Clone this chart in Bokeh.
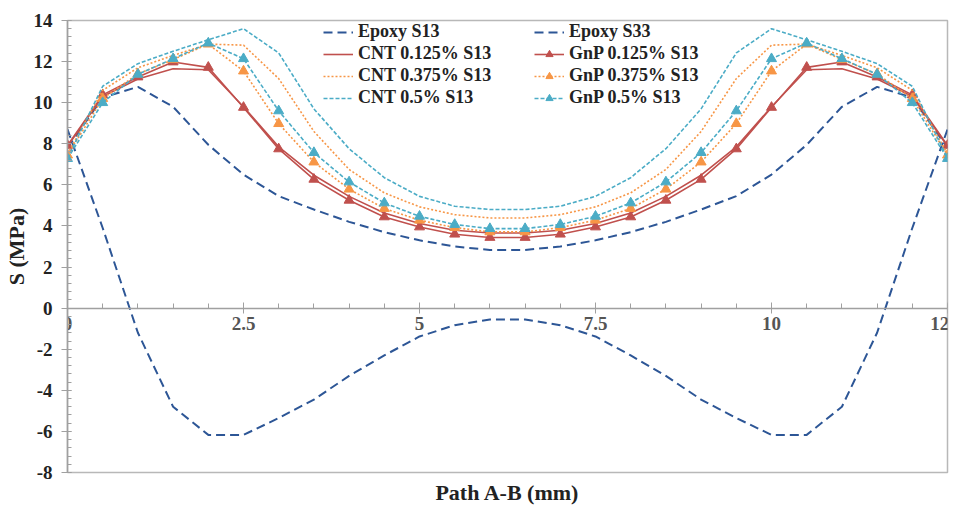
from bokeh.plotting import figure
from bokeh.models import SingleIntervalTicker, Range1d, Legend, LegendItem, Title, PrintfTickFormatter
from bokeh.embed import file_html
from bokeh.resources import INLINE

path_x = [0, 0.5, 1, 1.5, 2, 2.5, 3, 3.5, 4, 4.5, 5, 5.5, 6,
          6.5, 7, 7.5, 8, 8.5, 9, 9.5, 10, 10.5, 11, 11.5, 12, 12.5]

epoxy_s13 = [7.8, 10.25, 10.77, 9.8, 7.95, 6.5, 5.45, 4.8, 4.2, 3.7, 3.3, 3.0, 2.83,
             2.83, 3.0, 3.3, 3.7, 4.2, 4.8, 5.45, 6.5, 7.95, 9.8, 10.77, 10.25, 7.8]
epoxy_s33 = [8.7, 3.9, -1.2, -4.8, -6.17, -6.17, -5.35, -4.45, -3.3, -2.3, -1.38, -0.83, -0.55,
             -0.55, -0.83, -1.38, -2.3, -3.3, -4.45, -5.35, -6.17, -6.17, -4.8, -1.2, 3.9, 8.7]
cnt_0125 = [7.88, 10.3, 11.15, 11.65, 11.6, 9.8, 7.85, 6.47, 5.44, 4.63, 4.12, 3.79, 3.66,
            3.66, 3.79, 4.12, 4.63, 5.44, 6.47, 7.85, 9.8, 11.6, 11.65, 11.15, 10.3, 7.88]
gnp_0125 = [7.92, 10.38, 11.25, 11.98, 11.72, 9.77, 7.75, 6.27, 5.25, 4.44, 3.95, 3.6, 3.44,
            3.44, 3.6, 3.95, 4.44, 5.25, 6.27, 7.75, 9.77, 11.72, 11.98, 11.25, 10.38, 7.92]
cnt_0375 = [7.5, 10.6, 11.7, 12.3, 12.85, 12.8, 11.17, 8.6, 6.75, 5.61, 4.93, 4.55, 4.39,
            4.39, 4.55, 4.93, 5.61, 6.75, 8.6, 11.17, 12.8, 12.85, 12.3, 11.7, 10.6, 7.5]
gnp_0375 = [7.45, 10.2, 11.4, 12.1, 12.85, 11.54, 8.98, 7.11, 5.79, 4.85, 4.28, 3.92, 3.71,
            3.71, 3.92, 4.28, 4.85, 5.79, 7.11, 8.98, 11.54, 12.85, 12.1, 11.4, 10.2, 7.45]
cnt_05 = [7.3, 10.8, 11.9, 12.5, 13.06, 13.6, 12.42, 9.7, 7.76, 6.35, 5.44, 4.96, 4.8,
          4.8, 4.96, 5.44, 6.35, 7.76, 9.7, 12.42, 13.6, 13.06, 12.5, 11.9, 10.8, 7.3]
gnp_05 = [7.28, 10.0, 11.38, 12.14, 12.9, 12.14, 9.6, 7.57, 6.14, 5.12, 4.47, 4.07, 3.87,
          3.87, 4.07, 4.47, 5.12, 6.14, 7.57, 9.6, 12.14, 12.9, 12.14, 11.38, 10.0, 7.28]

series_labels = ["Epoxy S13", "Epoxy S33", "CNT 0.125% S13", "GnP 0.125% S13",
                 "CNT 0.375% S13", "GnP 0.375% S13", "CNT 0.5% S13", "GnP 0.5% S13"]

FONT = "'Liberation Serif', 'Times New Roman', serif"
BLUE = "#2d5696"
RED = "#c0504d"
ORANGE = "#f79646"
CYAN = "#4bacc6"

p = figure(width=963, height=509, output_backend="svg", toolbar_location=None,
           x_range=Range1d(0, 12.5), y_range=Range1d(-8, 14),
           min_border_left=66, min_border_right=16, min_border_top=20, min_border_bottom=37)
p.grid.visible = False
p.outline_line_color = "#b8b8b8"
p.outline_line_width = 1.5
p.background_fill_color = "white"
p.border_fill_color = "white"

# x axis at y = 0
p.xaxis.fixed_location = 0
p.xaxis.ticker = SingleIntervalTicker(interval=2.5, num_minor_ticks=5)
p.xaxis.formatter = PrintfTickFormatter(format="%g")
p.xaxis.axis_line_color = "#a0a0a0"
p.xaxis.axis_line_width = 1.5
p.xaxis.major_tick_line_color = "#a0a0a0"
p.xaxis.minor_tick_line_color = "#a0a0a0"
p.xaxis.major_tick_in = 6
p.xaxis.major_tick_out = 5
p.xaxis.minor_tick_in = 5
p.xaxis.minor_tick_out = 0
p.xaxis.major_label_text_font = FONT
p.xaxis.major_label_text_font_style = "bold"
p.xaxis.major_label_text_font_size = "19px"
p.xaxis.major_label_text_color = "#555555"
p.xaxis.major_label_standoff = 4

p.yaxis.ticker = SingleIntervalTicker(interval=2, num_minor_ticks=5)
p.yaxis.formatter = PrintfTickFormatter(format="%d")
p.yaxis.axis_line_color = "#a0a0a0"
p.yaxis.axis_line_width = 1.5
p.yaxis.major_tick_line_color = "#a0a0a0"
p.yaxis.minor_tick_line_color = "#a0a0a0"
p.yaxis.major_tick_in = 4
p.yaxis.major_tick_out = 6
p.yaxis.minor_tick_in = 4
p.yaxis.minor_tick_out = 0
p.yaxis.major_label_text_font = FONT
p.yaxis.major_label_text_font_style = "bold"
p.yaxis.major_label_text_font_size = "19px"
p.yaxis.major_label_text_color = "#222222"
p.yaxis.major_label_standoff = 9
p.yaxis.axis_label = "S (MPa)"
p.yaxis.axis_label_text_font = FONT
p.yaxis.axis_label_text_font_style = "bold"
p.yaxis.axis_label_text_font_size = "22px"
p.yaxis.axis_label_text_color = "#222222"
p.yaxis.axis_label_standoff = 2

p.add_layout(Title(text="Path A-B (mm)", align="center", text_font=FONT,
                   text_font_style="bold", text_font_size="22px",
                   text_color="#222222", standoff=10), "below")

r_e13 = p.line(path_x, epoxy_s13, line_color=BLUE, line_width=2, line_dash="9 5")
r_e33 = p.line(path_x, epoxy_s33, line_color=BLUE, line_width=2, line_dash="9 5")
r_c1 = p.line(path_x, cnt_0125, line_color=RED, line_width=1.6)
r_g1 = p.line(path_x, gnp_0125, line_color=RED, line_width=1.6)
m_g1 = p.scatter(path_x, gnp_0125, marker="triangle", size=10, fill_color=RED, line_color=RED)
r_c3 = p.line(path_x, cnt_0375, line_color=ORANGE, line_width=1.6, line_dash="2 2")
r_g3 = p.line(path_x, gnp_0375, line_color=ORANGE, line_width=1.6, line_dash="2 2")
m_g3 = p.scatter(path_x, gnp_0375, marker="triangle", size=10, fill_color=ORANGE, line_color=ORANGE)
r_c5 = p.line(path_x, cnt_05, line_color=CYAN, line_width=1.6, line_dash="4 2")
r_g5 = p.line(path_x, gnp_05, line_color=CYAN, line_width=1.6, line_dash="4 2")
m_g5 = p.scatter(path_x, gnp_05, marker="triangle", size=10, fill_color=CYAN, line_color=CYAN)

renderer_groups = [[r_e13], [r_e33], [r_c1], [r_g1, m_g1],
                   [r_c3], [r_g3, m_g3], [r_c5], [r_g5, m_g5]]
items = [LegendItem(label=lab, renderers=rs) for lab, rs in zip(series_labels, renderer_groups)]

legend = Legend(items=items, orientation="horizontal", ncols=2,
                location=(256, 364), padding=0, margin=0, spacing=1,
                glyph_width=30, glyph_height=18, label_height=18, label_width=175,
                label_standoff=5, label_text_font=FONT, label_text_font_style="bold",
                label_text_font_size="18px", label_text_color="#222222",
                border_line_color=None, background_fill_alpha=0)
p.add_layout(legend)

open("out.html", "w").write(file_html(p, INLINE))
